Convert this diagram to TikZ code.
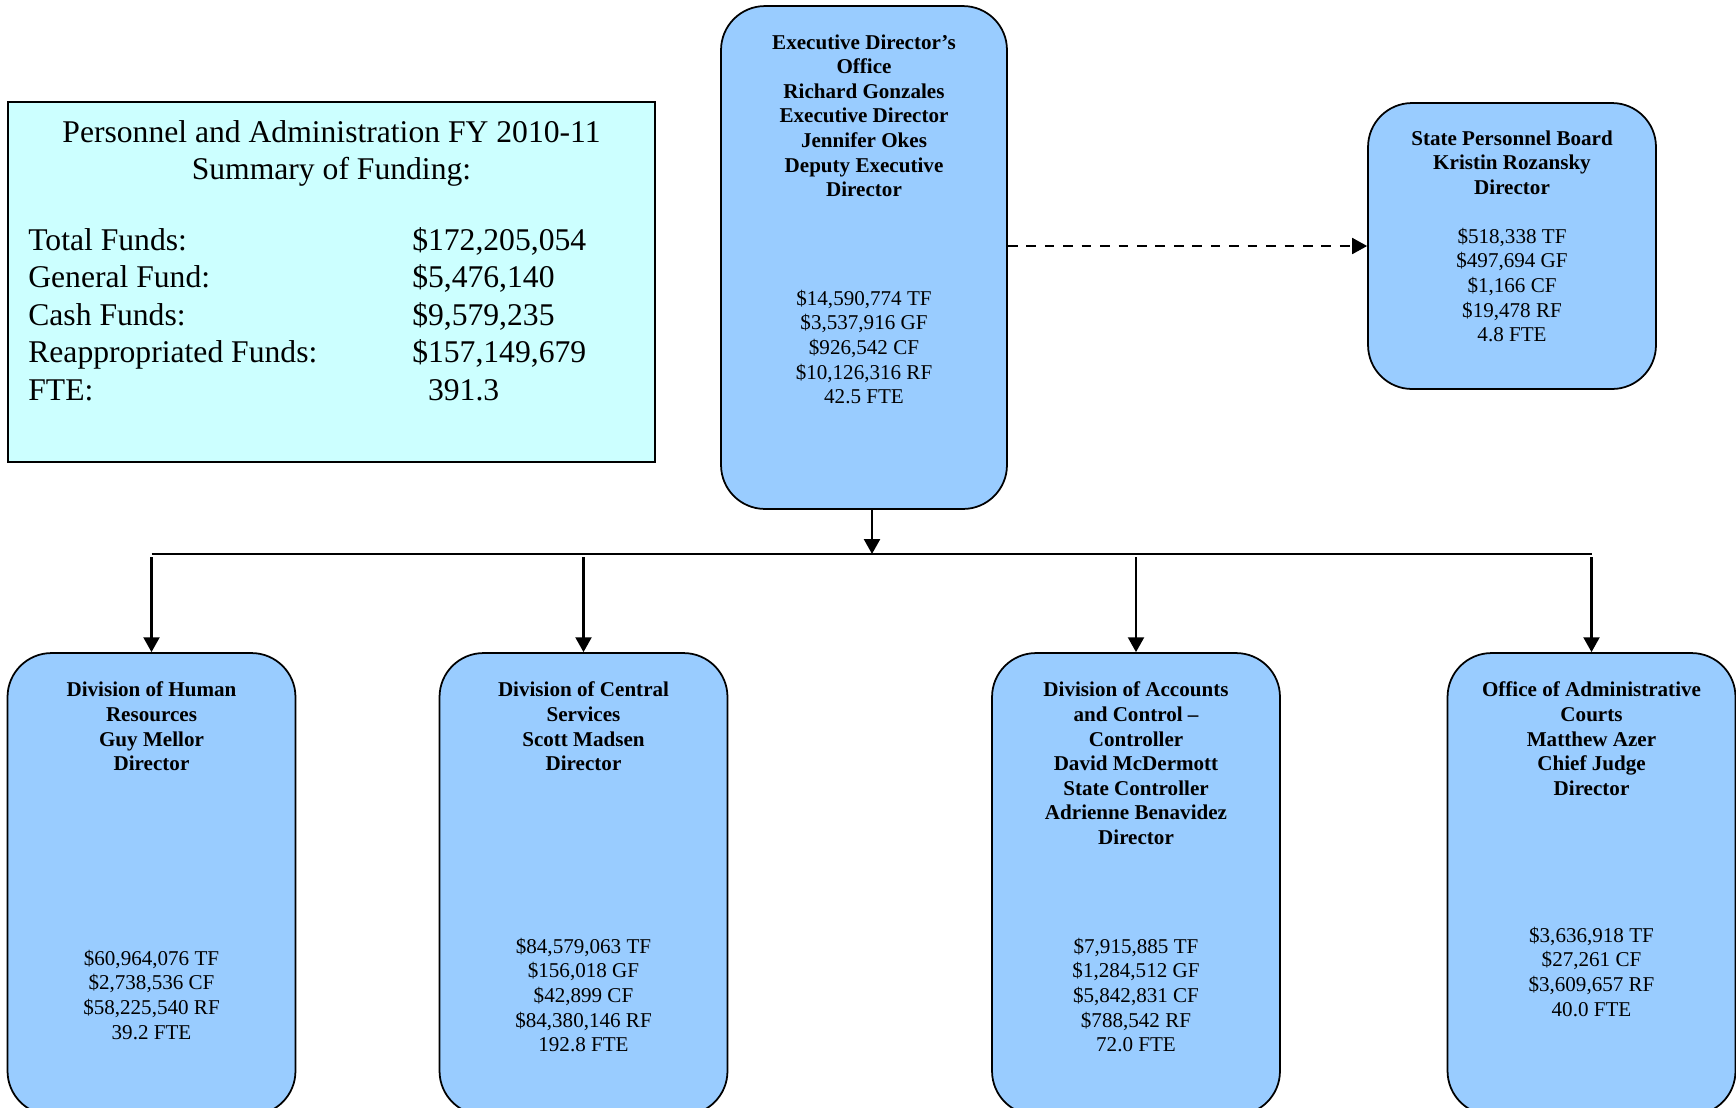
\documentclass[tikz,border=0pt]{standalone}
\usepackage{fontspec}
\setmainfont{Liberation Serif}
\usetikzlibrary{positioning,arrows.meta}
\definecolor{boxblue}{HTML}{99CCFF}
\definecolor{sumcyan}{HTML}{CCFFFF}
\tikzset{
    unit/.style={draw, line width=1pt, fill=boxblue, rounded corners=25pt,
        minimum width=5.76cm, inner sep=0pt},
    head/.style={align=center, inner sep=0pt,
        font=\fontsize{12}{14}\selectfont\bfseries},
    money/.style={align=center, inner sep=0pt,
        font=\fontsize{12}{14}\selectfont},
    arr/.style={line width=1.6pt, -{Triangle[length=8.5pt,width=9pt]}}
}

\begin{document}
\begin{tikzpicture}[x=0.02cm, y=0.02cm]
	    \useasboundingbox (0,-1107) rectangle (1736,0);
	    \clip (0,-1107) rectangle (1736,0);
	    % summary of funding
	    \node[draw, line width=0.8pt, fill=sumcyan, minimum width=12.94cm,
	          minimum height=7.2cm] (sum) at (331.5,-282) {};
	    \node[align=center, inner sep=0pt, anchor=north,
	          font=\fontsize{18}{21.3}\selectfont] (sumT) at (331.5,-120)
	          {Personnel and Administration FY 2010-11\\Summary of Funding:};
	    \node[inner sep=0pt, anchor=north west,
	          font=\fontsize{18}{21.3}\selectfont] (sumR) at (28,-224) {%
	      \begin{tabular}{@{}p{7.68cm}@{}l@{}}
	        Total Funds: & \$172,205,054\\
	        General Fund: & \$5,476,140\\
	        Cash Funds: & \$9,579,235\\
	        Reappropriated Funds: & \$157,149,679\\
	        FTE: & \hspace{9pt}391.3
	      \end{tabular}};
	    % boxes
	    \node[unit, minimum width=5.72cm, minimum height=10.06cm] (exec) at (864,-257.5) {};
	    \node[unit, minimum height=5.72cm] (spb) at (1512,-246) {};
	    \node[unit, minimum height=9.24cm] (hr) at (151.5,-884) {};
	    \node[unit, minimum height=9.24cm] (cs) at (583.5,-884) {};
	    \node[unit, minimum height=9.24cm] (dac) at (1136,-884) {};
	    \node[unit, minimum height=9.24cm] (oac) at (1591.5,-884) {};
	    % texts
	    \node[head, below=0.58cm of exec.north] (execT) {Executive Director’s\\Office\\Richard Gonzales\\Executive Director\\Jennifer Okes\\Deputy Executive\\Director};
	    \node[money, below=5.69cm of exec.north] (execA) {\$14,590,774 TF\\\$3,537,916 GF\\\$926,542 CF\\\$10,126,316 RF\\42.5 FTE};
	    \node[head, below=0.56cm of spb.north] (spbT) {State Personnel Board\\Kristin Rozansky\\Director};
	    \node[money, below=2.51cm of spb.north] (spbA) {\$518,338 TF\\\$497,694 GF\\\$1,166 CF\\\$19,478 RF\\4.8 FTE};
	    \node[head, below=0.59cm of hr.north] (hrT) {Division of Human\\Resources\\Guy Mellor\\Director};
	    \node[money, below=5.95cm of hr.north] (hrA) {\$60,964,076 TF\\\$2,738,536 CF\\\$58,225,540 RF\\39.2 FTE};
	    \node[head, below=0.59cm of cs.north] (csT) {Division of Central\\Services\\Scott Madsen\\Director};
	    \node[money, below=5.71cm of cs.north] (csA) {\$84,579,063 TF\\\$156,018 GF\\\$42,899 CF\\\$84,380,146 RF\\192.8 FTE};
	    \node[head, below=0.59cm of dac.north] (dacT) {Division of Accounts\\and Control –\\Controller\\David McDermott\\State Controller\\Adrienne Benavidez\\Director};
	    \node[money, below=5.71cm of dac.north] (dacA) {\$7,915,885 TF\\\$1,284,512 GF\\\$5,842,831 CF\\\$788,542 RF\\72.0 FTE};
	    \node[head, below=0.59cm of oac.north] (oacT) {Office of Administrative\\Courts\\Matthew Azer\\Chief Judge\\Director};
	    \node[money, below=5.49cm of oac.north] (oacA) {\$3,636,918 TF\\\$27,261 CF\\\$3,609,657 RF\\40.0 FTE};
	    % connectors
	    \coordinate (busL) at (151.5,-554);
	    \coordinate (busR) at (1591.5,-554);
	    \draw[arr, line width=1.3pt, dash pattern=on 5.5pt off 5pt] (spb.west -| exec.east) -- (spb.west);
	    \draw[arr] ([xshift=0.16cm]exec.south) -- ([xshift=0.16cm]exec.south |- busL);
	    \draw[line width=1.2pt] (busL) -- (busR);
	    \draw[arr] ([yshift=-0.06cm]hr.north |- busL) -- (hr.north);
	    \draw[arr] ([yshift=-0.06cm]cs.north |- busL) -- (cs.north);
	    \draw[arr] ([yshift=-0.06cm]dac.north |- busL) -- (dac.north);
	    \draw[arr] ([yshift=-0.06cm]oac.north |- busL) -- (oac.north);
	\end{tikzpicture}
\end{document}
